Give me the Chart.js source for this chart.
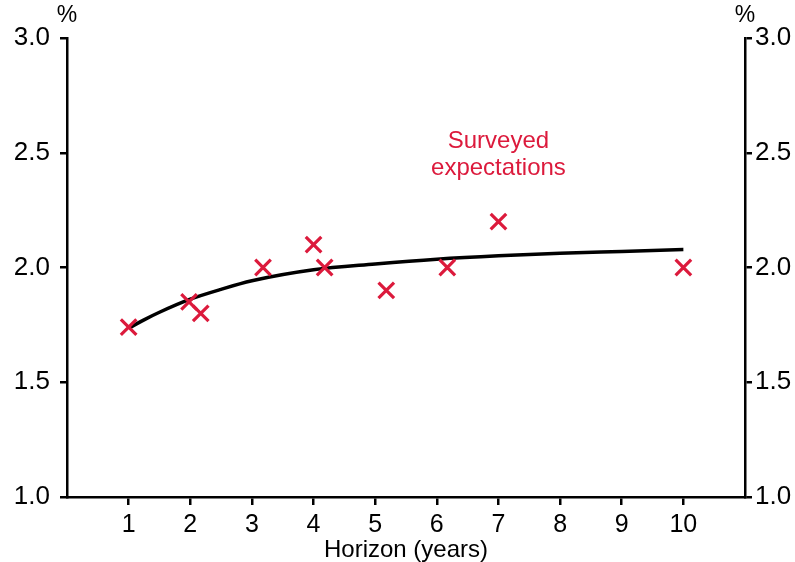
<!DOCTYPE html>
<html>
<head>
<meta charset="utf-8">
<script src="https://cdn.jsdelivr.net/npm/chart.js@4"></script>
<style>
  html, body { margin: 0; padding: 0; background: #fff; }
  #wrap { width: 795px; height: 562px; position: relative; }
</style>
</head>
<body>
<div id="wrap"><canvas id="c" width="795" height="562"></canvas></div>
<script>
// ---- data ----
const curveX = [1, 1.25, 1.5, 2, 2.5, 3, 4, 5, 6, 7, 8, 9, 10];
const curveY = [1.735, 1.772, 1.805, 1.862, 1.905, 1.942, 1.99, 2.015, 2.036, 2.051, 2.062, 2.07, 2.078];
const surveyX = [1, 1.98, 2.17, 3.18, 4.0, 4.18, 5.18, 6.17, 7.0, 10.0];
const surveyY = [1.74, 1.85, 1.80, 2.0, 2.1, 2.0, 1.9, 2.0, 2.2, 2.0];
const xTickValues = [1, 2, 3, 4, 5, 6, 7, 8, 9, 10];
const yTickValues = [1.0, 1.5, 2.0, 2.5, 3.0];
const annotationLines = ['Surveyed', 'expectations'];

const RED = '#dc1a3c';
const FONT = "'Liberation Sans', Arial, sans-serif";

const curveData = curveX.map((x, i) => ({ x: x, y: curveY[i] }));
const surveyData = surveyX.map((x, i) => ({ x: x, y: surveyY[i] }));

const overlay = {
  id: 'overlay',
  afterDraw(chart) {
    const ctx = chart.ctx;
    const a = chart.chartArea;
    ctx.save();
    ctx.fillStyle = '#000';
    ctx.font = '23px ' + FONT;
    ctx.textAlign = 'center';
    ctx.textBaseline = 'middle';
    ctx.fillText('%', a.left, 16);
    ctx.fillText('%', a.right, 16);
    // annotation
    const xs = chart.scales.x, ys = chart.scales.y;
    ctx.fillStyle = RED;
    ctx.font = '24px ' + FONT;
    const cx = xs.getPixelForValue(7.0);
    const cy = ys.getPixelForValue(2.55);
    ctx.fillText(annotationLines[0], cx, cy);
    ctx.fillText(annotationLines[1], cx, cy + 27);
    ctx.restore();
  }
};

function yAxis(pos, width, pad) {
  return {
    type: 'linear',
    position: pos,
    min: 1, max: 3,
    afterBuildTicks: s => { s.ticks = yTickValues.map(v => ({ value: v })); },
    afterFit: s => { s.width = width; },
    grid: { display: true, drawOnChartArea: false, drawTicks: true, tickLength: 7, color: '#000', lineWidth: 2.5 },
    border: { display: true, color: '#000', width: 2.5 },
    ticks: {
      color: '#000', padding: pad,
      font: { family: FONT, size: 26 },
      callback: v => v.toFixed(1)
    }
  };
}

new Chart(document.getElementById('c'), {
  type: 'scatter',
  data: {
    datasets: [
      {
        type: 'line',
        data: curveData,
        borderColor: '#000',
        borderWidth: 3.5,
        pointRadius: 0,
        fill: false,
        cubicInterpolationMode: 'monotone',
        order: 2
      },
      {
        type: 'scatter',
        data: surveyData,
        pointStyle: 'crossRot',
        pointRadius: 11,
        pointBorderWidth: 3.2,
        borderColor: RED,
        backgroundColor: RED,
        pointBorderColor: RED,
        order: 1
      }
    ]
  },
  options: {
    responsive: false,
    animation: false,
    devicePixelRatio: 1,
    layout: { padding: { top: 38, left: 0, right: 0, bottom: 0 } },
    plugins: { legend: { display: false }, tooltip: { enabled: false } },
    scales: {
      x: {
        type: 'linear',
        min: 0, max: 11,
        afterBuildTicks: s => { s.ticks = xTickValues.map(v => ({ value: v })); },
        afterFit: s => { s.height = 65; },
        grid: { display: true, drawOnChartArea: false, drawTicks: true, tickLength: 8, color: '#000', lineWidth: 2.5 },
        border: { display: true, color: '#000', width: 2.5 },
        ticks: { color: '#000', padding: 5, font: { family: FONT, size: 25 }, maxRotation: 0 },
        title: { display: true, text: 'Horizon (years)', color: '#000', font: { family: FONT, size: 24 }, padding: { top: 0, bottom: -3 } }
      },
      y: yAxis('left', 67, 10),
      y2: yAxis('right', 50, 3)
    }
  },
  plugins: [overlay]
});
</script>
</body>
</html>
